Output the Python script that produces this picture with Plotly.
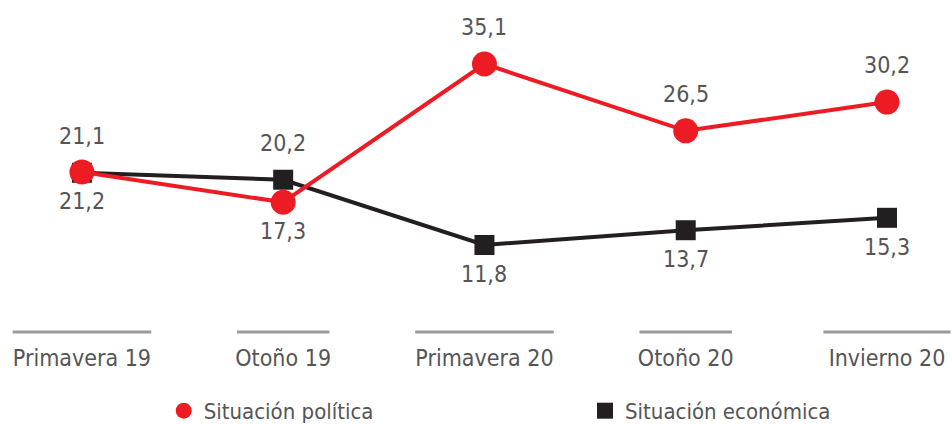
import plotly.graph_objects as go

periodos = ["Primavera 19", "Otoño 19", "Primavera 20", "Otoño 20", "Invierno 20"]
politica = [21.2, 17.3, 35.1, 26.5, 30.2]
economica = [21.1, 20.2, 11.8, 13.7, 15.3]
# posición de la etiqueta de cada punto (arriba / abajo)
pos_politica = ["below", "below", "above", "above", "above"]
pos_economica = ["above", "above", "below", "below", "below"]

ROJO = "#ED1C24"
NEGRO = "#231F20"
GRIS_TXT = "#555555"
FUENTE = "DejaVu Sans Condensed, Liberation Sans Narrow, sans-serif"

x = list(range(len(periodos)))

fig = go.Figure()
fig.add_trace(go.Scatter(
    x=x, y=economica, mode="lines+markers", showlegend=False,
    line=dict(color=NEGRO, width=4),
    marker=dict(symbol="square", size=20, color=NEGRO),
))
fig.add_trace(go.Scatter(
    x=x, y=politica, mode="lines+markers", showlegend=False,
    line=dict(color=ROJO, width=4),
    marker=dict(symbol="circle", size=25, color=ROJO),
))
# entradas de leyenda solo con marcador, cada una en su propia leyenda
fig.add_trace(go.Scatter(
    x=[None], y=[None], mode="markers", name="Situación política", legend="legend",
    marker=dict(symbol="circle", size=22, color=ROJO),
))
fig.add_trace(go.Scatter(
    x=[None], y=[None], mode="markers", name="Situación económica", legend="legend2",
    marker=dict(symbol="square", size=20, color=NEGRO),
))

for serie, pos in ((politica, pos_politica), (economica, pos_economica)):
    for i, (v, p) in enumerate(zip(serie, pos)):
        fig.add_annotation(
            x=i, y=v, text=f"{v:.1f}".replace(".", ","), showarrow=False,
            yshift=37 if p == "above" else -29,
            font=dict(family=FUENTE, size=23, color=GRIS_TXT),
        )

# líneas grises sobre cada etiqueta del eje
for i, lab in enumerate(periodos):
    half = 0.0287 * len(lab)
    fig.add_shape(
        type="line", xref="x", yref="paper", x0=i - half, x1=i + half, y0=0, y1=0,
        line=dict(color="#9B9B9B", width=3),
    )

fig.update_xaxes(
    tickmode="array", tickvals=x, ticktext=periodos,
    range=[-0.407, 4.323], showgrid=False, zeroline=False, showline=False,
    ticks="outside", ticklen=5, tickcolor="rgba(0,0,0,0)",
    ticklabeloverflow="allow",
    tickfont=dict(family=FUENTE, size=23, color=GRIS_TXT),
)
fig.update_yaxes(range=[0.6, 42.05], visible=False, showgrid=False)

ley = dict(
    orientation="h", yanchor="middle", y=-0.245, xanchor="left",
    font=dict(family=FUENTE, size=22, color=GRIS_TXT),
    bgcolor="rgba(0,0,0,0)",
)
fig.update_layout(
    width=952, height=424,
    margin=dict(l=0, r=0, t=10, b=92, autoexpand=False),
    plot_bgcolor="white", paper_bgcolor="white",
    legend=dict(ley, x=0.172),
    legend2=dict(ley, x=0.6145),
)

fig.write_html(
    "out.html",
    config={"displayModeBar": False},
    post_script="document.body.style.margin='0';",
)
